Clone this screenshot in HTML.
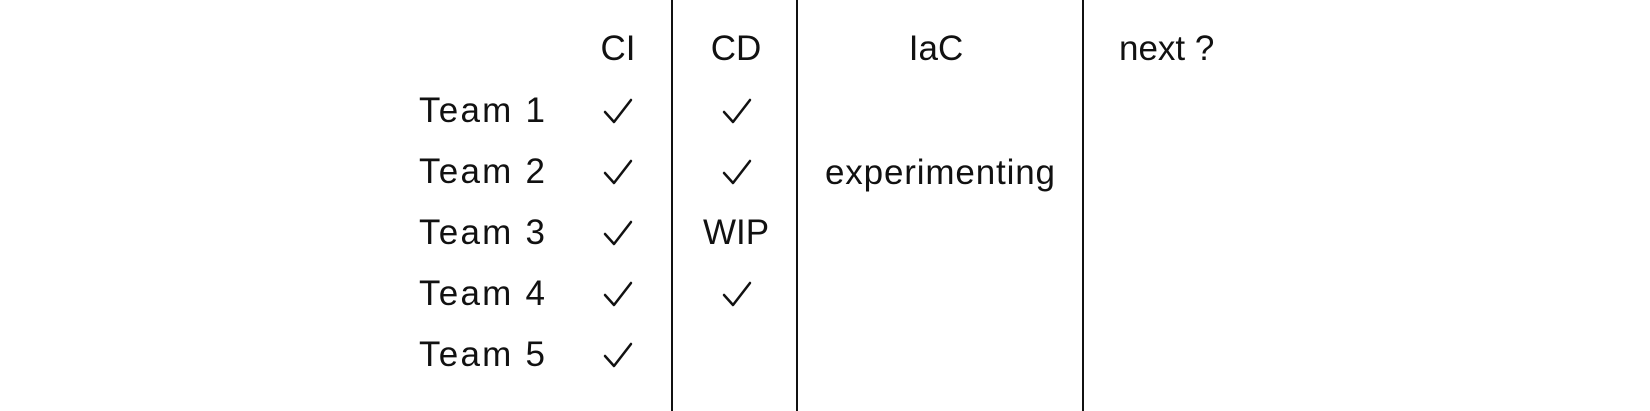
<!DOCTYPE html>
<html><head><meta charset="utf-8"><style>
html,body{margin:0;padding:0;background:#fff;}
svg{display:block;}
text{font-family:"Liberation Sans",sans-serif;font-size:35px;fill:#111;}
</style></head><body>
<svg width="1650" height="411" viewBox="0 0 1650 411">
<g stroke="#111" stroke-width="2">
<line x1="672" y1="0" x2="672" y2="411"/>
<line x1="797" y1="0" x2="797" y2="411"/>
<line x1="1083" y1="0" x2="1083" y2="411"/>
</g>
<text x="618" y="60" text-anchor="middle">CI</text>
<text x="736" y="60" text-anchor="middle">CD</text>
<text x="936" y="60" text-anchor="middle">IaC</text>
<text x="1119" y="60">next ?</text>
<g>
<text x="419" y="122" textLength="126">Team 1</text>
<text x="419" y="183" textLength="126">Team 2</text>
<text x="419" y="244" textLength="126">Team 3</text>
<text x="419" y="305" textLength="126">Team 4</text>
<text x="419" y="366" textLength="126">Team 5</text>
</g>
<g fill="none" stroke="#111" stroke-width="2.5" stroke-linecap="round" stroke-linejoin="round">
<path d="M605 112 L614 122 L631 100"/>
<path d="M605 173 L614 183 L631 161"/>
<path d="M605 234 L614 244 L631 222"/>
<path d="M605 295 L614 305 L631 283"/>
<path d="M605 356 L614 366 L631 344"/>
<path d="M724 112 L733 122 L750 100"/>
<path d="M724 173 L733 183 L750 161"/>
<path d="M724 295 L733 305 L750 283"/>
</g>
<text x="736" y="244" text-anchor="middle">WIP</text>
<text x="940" y="184" text-anchor="middle" textLength="230">experimenting</text>
</svg>
</body></html>
